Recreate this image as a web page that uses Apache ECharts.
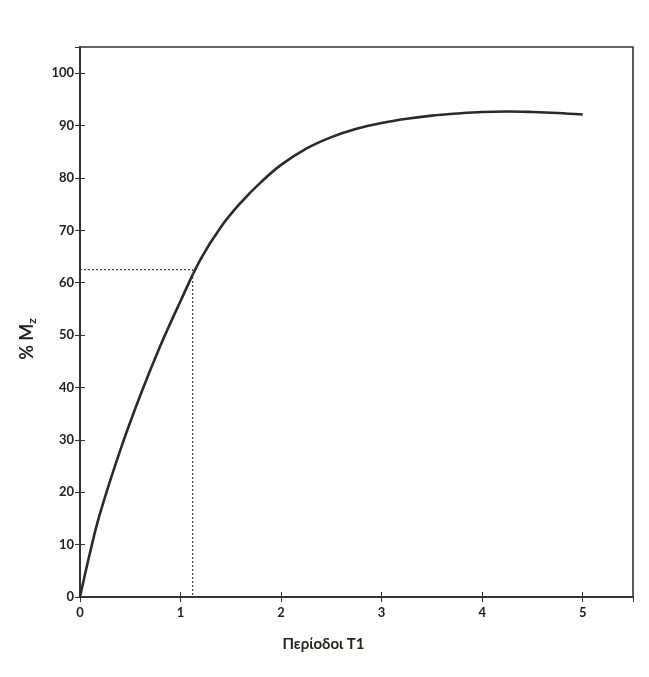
<!DOCTYPE html>
<html><head><meta charset="utf-8">
<script src="https://cdn.jsdelivr.net/npm/echarts@6/dist/echarts.min.js"></script>
<style>html,body{margin:0;padding:0;background:#fff}#c{width:649px;height:677px}</style>
</head><body><div id="c"></div>
<script>
const periods = [0, 0.1, 0.2, 0.4, 0.6, 0.8, 1.0, 1.2, 1.4, 1.6, 1.8, 2.0, 2.25, 2.5, 2.75, 3.0, 3.25, 3.5, 3.75, 4.0, 4.25, 4.5, 4.75, 5.0];
const mzPercent = [0, 8.5, 16, 28, 38.5, 48, 56.5, 64.5, 70.6, 75.3, 79.2, 82.5, 85.6, 87.8, 89.4, 90.5, 91.3, 91.9, 92.3, 92.6, 92.7, 92.6, 92.4, 92.1];
const guideX = [0, 1.12, 1.12];
const guideY = [62.5, 62.5, 0];
const xTitle = 'Περίοδοι T1';
const yTitle = '% M';
const ySub = 'z';

const chart = echarts.init(document.getElementById('c'));
const font = 'Lato, "Open Sans", "DejaVu Sans", sans-serif';
chart.setOption({
  animation: false,
  backgroundColor: '#fff',
  grid: {left: 80, right: 16, top: 47, bottom: 80, show: true, borderColor: '#333', borderWidth: 1.6, backgroundColor: 'transparent'},
  xAxis: [{
    type: 'value', min: 0, max: 5.5, interval: 1,
    axisLine: {show: true, onZero: false, lineStyle: {color: '#333', width: 1.6}},
    axisTick: {show: true, inside: true, length: 5, lineStyle: {color: '#333'}},
    axisLabel: {color: '#222', fontSize: 13, fontFamily: font, fontWeight: 'bold', margin: 9, showMaxLabel: false},
    splitLine: {show: false},
    name: xTitle, nameLocation: 'middle', nameGap: 40,
    nameTextStyle: {color: '#2a2418', fontSize: 15, fontFamily: font, fontWeight: 'bold', padding: [0, 66, 0, 0]}
  }, {
    type: 'value', position: 'top', min: 0, max: 5.5, interval: 1,
    axisLine: {show: true, lineStyle: {color: '#333', width: 1.6}},
    axisTick: {show: true, inside: true, length: 5, lineStyle: {color: '#333'}},
    axisLabel: {show: false}, splitLine: {show: false}
  }],
  yAxis: [{
    type: 'value', min: 0, max: 105, interval: 10,
    axisLine: {show: true, onZero: false, lineStyle: {color: '#333', width: 1.6}},
    axisTick: {show: true, inside: true, length: 5, lineStyle: {color: '#333'}},
    axisLabel: {color: '#222', fontSize: 13, fontFamily: font, fontWeight: 'bold', margin: 6, showMaxLabel: false},
    splitLine: {show: false},
    name: yTitle + '{s|' + ySub + '}', nameLocation: 'middle', nameGap: 42, nameRotate: 90,
    nameTextStyle: {color: '#222', fontSize: 18, fontFamily: font, fontWeight: 'bold', padding: [0, 34, 0, 0],
      rich: {s: {fontSize: 12, fontFamily: font, fontWeight: 'bold', color: '#222', padding: [9, 0, 0, 0]}}}
  }, {
    type: 'value', position: 'right', min: 0, max: 105, interval: 10,
    axisLine: {show: true, lineStyle: {color: '#333', width: 1.6}},
    axisTick: {show: true, inside: true, length: 5, lineStyle: {color: '#333'}},
    axisLabel: {show: false}, splitLine: {show: false}
  }],
  series: [{
    type: 'line', smooth: 0.4, symbol: 'none',
    data: periods.map((t, i) => [t, mzPercent[i]]),
    lineStyle: {color: '#2a2a2a', width: 2.6}
  }, {
    type: 'line', symbol: 'none',
    data: guideX.map((t, i) => [t, guideY[i]]),
    lineStyle: {color: '#444', width: 1.2, type: [2, 2]}
  }]
});
</script></body></html>
